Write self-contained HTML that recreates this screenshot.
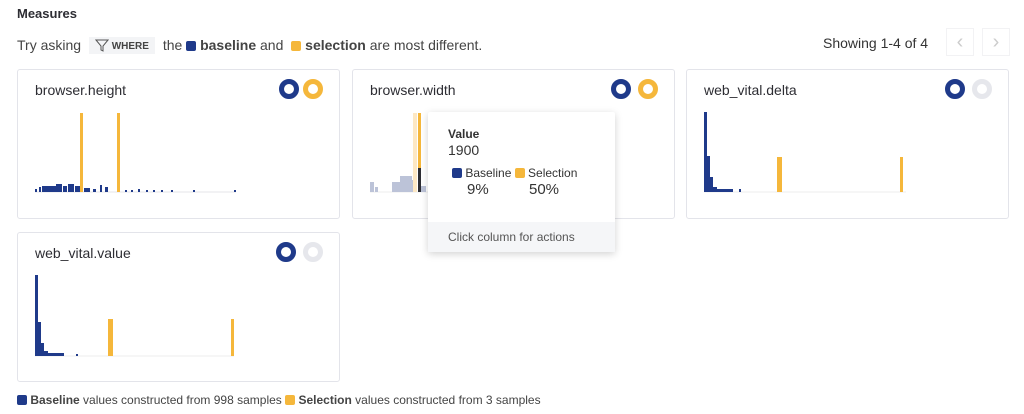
<!DOCTYPE html>
<html><head><meta charset="utf-8"><style>
body{margin:0;width:1024px;height:414px;background:#fff;font-family:"Liberation Sans",sans-serif;color:#333;position:relative;overflow:hidden}
.a{position:absolute}
.card{position:absolute;border:1px solid #e3e4ea;border-radius:3px;background:#fff;width:321px;height:148px}
.t{position:absolute;left:17px;top:12px;font-size:14px;color:#2d2d33}
.sq{display:inline-block;width:10px;height:10px;border-radius:2px;vertical-align:-1px}
</style></head><body>
<div class="a" style="left:17px;top:6px;font-size:13px;font-weight:bold;color:#2d2d33">Measures</div>
<div class="a" style="left:17px;top:37px;font-size:14px;color:#444;white-space:nowrap">Try asking <span style="display:inline-block;background:#f3f4f6;padding:2px 6px;font-size:10px;font-weight:bold;margin:0 4px;vertical-align:1px">
<svg width="14" height="13" viewBox="0 0 14 13" style="vertical-align:-3px"><path d="M1 1h12L8 7v5L6 11V7z" fill="none" stroke="#555" stroke-width="1"/></svg> WHERE</span> the <span class="sq" style="background:#1f3a8a"></span> <b>baseline</b> and <span class="sq" style="background:#f5b73b;margin-left:4px"></span> <b>selection</b> are most different.</div>
<div class="a" style="left:823px;top:35px;font-size:14px;color:#333">Showing 1-4 of 4</div>
<div class="a" style="left:946px;top:28px;width:26px;height:26px;border:1px solid #f2f2f4;color:#ccc;font-size:20px;text-align:center;line-height:26px">&#8249;</div>
<div class="a" style="left:982px;top:28px;width:26px;height:26px;border:1px solid #f2f2f4;color:#ccc;font-size:20px;text-align:center;line-height:26px">&#8250;</div>

<div class="card" style="left:17px;top:69px"><div class="t">browser.height</div>
<svg class="a" style="left:0;top:0" width="321" height="148">
<circle cx="271" cy="19" r="7.5" fill="none" stroke="#1f3a8a" stroke-width="5"/><circle cx="295" cy="19" r="7.5" fill="none" stroke="#f5b73b" stroke-width="5"/>
<line x1="17" y1="122" x2="218" y2="122" stroke="#e6e6ea"/>
<g fill="#1f3a8a"><rect x="17" y="119" width="2" height="3"/><rect x="21" y="117" width="2" height="5"/><rect x="24" y="116" width="14" height="6"/><rect x="38" y="114" width="6" height="8"/><rect x="45" y="116" width="4" height="6"/><rect x="50" y="114" width="6" height="8"/><rect x="57" y="116" width="8" height="6"/><rect x="66" y="118" width="6" height="4"/><rect x="75" y="119" width="3" height="3"/><rect x="82" y="115" width="2" height="7"/><rect x="87" y="117" width="3" height="5"/><rect x="99" y="120" width="2" height="2"/><rect x="107" y="120" width="2" height="2"/><rect x="113" y="120" width="2" height="2"/><rect x="120" y="119" width="2" height="3"/><rect x="128" y="120" width="2" height="2"/><rect x="135" y="120" width="2" height="2"/><rect x="143" y="120" width="2" height="2"/><rect x="153" y="120" width="2" height="2"/><rect x="175" y="120" width="2" height="2"/><rect x="216" y="120" width="2" height="2"/></g>
<rect x="62" y="43" width="3" height="79" fill="#f5b73b"/><rect x="99" y="43" width="3" height="79" fill="#f5b73b"/></svg></div>

<div class="card" style="left:352px;top:69px"><div class="t">browser.width</div>
<svg class="a" style="left:0;top:0" width="321" height="148">
<circle cx="268" cy="19" r="7.5" fill="none" stroke="#1f3a8a" stroke-width="5"/><circle cx="295" cy="19" r="7.5" fill="none" stroke="#f5b73b" stroke-width="5"/>
<line x1="17" y1="122" x2="220" y2="122" stroke="#eee"/>
<g fill="#bcc3d8"><rect x="17" y="112" width="4" height="10"/><rect x="22" y="117" width="3" height="5"/><rect x="39" y="112" width="8" height="10"/><rect x="47" y="106" width="12" height="16"/><rect x="59" y="110" width="4" height="12"/><rect x="68" y="116" width="5" height="6"/></g>
<rect x="60" y="43" width="4" height="79" fill="#fde8c4"/><rect x="65" y="43" width="3" height="55" fill="#f5b73b"/><rect x="65" y="98" width="3" height="24" fill="#2d2d33"/></svg></div>

<div class="a" style="left:428px;top:112px;width:187px;height:140px;background:#fff;box-shadow:0 2px 8px rgba(0,0,0,.18);border-radius:2px">
<div class="a" style="left:20px;top:15px;font-size:12px;font-weight:bold;color:#333">Value</div>
<div class="a" style="left:20px;top:30px;font-size:14px;color:#333">1900</div>
<div class="a" style="left:24px;top:54px;font-size:12px;color:#333;white-space:nowrap"><span class="sq" style="background:#1f3a8a"></span> Baseline <span class="sq" style="background:#f5b73b"></span> Selection</div>
<div class="a" style="left:39px;top:69px;font-size:15px;color:#333">9%</div>
<div class="a" style="left:101px;top:69px;font-size:15px;color:#333">50%</div>
<div class="a" style="left:0;top:110px;width:187px;height:30px;background:#f5f6f8;font-size:12px;color:#555;line-height:30px;text-indent:20px">Click column for actions</div></div>

<div class="card" style="left:686px;top:69px"><div class="t">web_vital.delta</div>
<svg class="a" style="left:0;top:0" width="321" height="148">
<circle cx="268" cy="19" r="7.5" fill="none" stroke="#1f3a8a" stroke-width="5"/><circle cx="295" cy="19" r="7.5" fill="none" stroke="#e6e7ec" stroke-width="5"/>
<line x1="17" y1="122" x2="219" y2="122" stroke="#eee"/>
<g fill="#1f3a8a"><rect x="17" y="42" width="3" height="80"/><rect x="20" y="86" width="3" height="36"/><rect x="23" y="107" width="3" height="15"/><rect x="26" y="117" width="4" height="5"/><rect x="30" y="119" width="16" height="3"/><rect x="52" y="119" width="2" height="3"/></g>
<rect x="90" y="87" width="5" height="35" fill="#f5b73b"/><rect x="213" y="87" width="3" height="35" fill="#f5b73b"/></svg></div>

<div class="card" style="left:17px;top:232px"><div class="t">web_vital.value</div>
<svg class="a" style="left:0;top:0" width="321" height="148">
<circle cx="268" cy="19" r="7.5" fill="none" stroke="#1f3a8a" stroke-width="5"/><circle cx="295" cy="19" r="7.5" fill="none" stroke="#e6e7ec" stroke-width="5"/>
<line x1="17" y1="123" x2="216" y2="123" stroke="#eee"/>
<g fill="#1f3a8a"><rect x="17" y="42" width="3" height="81"/><rect x="20" y="89" width="3" height="34"/><rect x="23" y="110" width="3" height="13"/><rect x="26" y="118" width="4" height="5"/><rect x="30" y="120" width="16" height="3"/><rect x="58" y="121" width="2" height="2"/></g>
<rect x="90" y="86" width="5" height="37" fill="#f5b73b"/><rect x="213" y="86" width="3" height="37" fill="#f5b73b"/></svg></div>

<div class="a" style="left:17px;top:393px;font-size:12px;color:#444;white-space:nowrap"><span class="sq" style="background:#1f3a8a"></span> <b>Baseline</b> values constructed from 998 samples <span class="sq" style="background:#f5b73b"></span> <b>Selection</b> values constructed from 3 samples</div>
</body></html>
